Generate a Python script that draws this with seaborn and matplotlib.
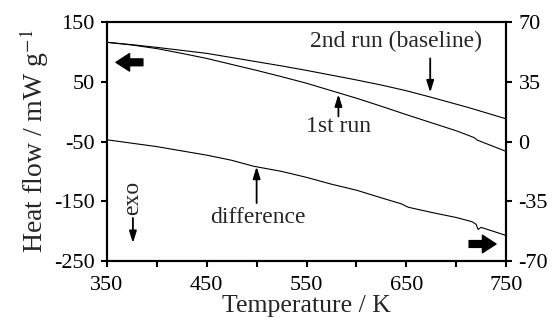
import matplotlib
matplotlib.use("Agg")
import matplotlib.pyplot as plt
import seaborn as sns
import numpy as np

# temperatures (K) and heat flow
temp_runs = [350, 375, 400, 425, 450, 475, 500, 525, 550, 575, 600, 625,
             650, 675, 700, 712, 718, 721, 724, 750]
run2_baseline = [116, 112, 107.5, 102.5, 97.5, 90.5, 83.5, 76.5, 69, 61, 53, 44.5,
                 35, 24, 12.5, 7, 4, 2.5, 1, -12]
run1 = [116, 111.5, 105.5, 97.5, 89, 79, 69, 58.5, 47.5, 35, 22.5, 9,
        -5, -18.5, -32, -39.5, -43.5, -47.5, -49.5, -66.5]

temp_diff = [350, 375, 400, 425, 450, 475, 497, 525, 550, 575, 600, 625,
             645, 652, 675, 700, 716, 720, 722, 725, 750]
difference = [1, -1, -3, -5.5, -8, -11, -14.5, -17.5, -21, -25, -28.5, -33,
              -36.5, -38.5, -41.5, -44.5, -47, -48.5, -51.5, -50.3, -55]

left_ticks = [150, 50, -50, -150, -250]
right_ticks = [70, 35, 0, -35, -70]
x_ticks = [350, 400, 450, 500, 550, 600, 650, 700, 750]
x_labels = ["350", "", "450", "", "550", "", "650", "", "750"]

sns.set_style("ticks")
plt.rcParams['font.family'] = ['Liberation Serif', 'DejaVu Serif']
plt.rcParams['mathtext.fontset'] = 'stix'
plt.rcParams['axes.unicode_minus'] = False

fig = plt.figure(figsize=(5.54, 3.22), dpi=100)
ax = fig.add_axes([0.1931, 0.1894, 0.7203, 0.7423])

sns.lineplot(x=temp_runs, y=run2_baseline, ax=ax, color="black", lw=0.8)
sns.lineplot(x=temp_runs, y=run1, ax=ax, color="black", lw=0.8)
ax.set_xlim(350, 750)
ax.set_ylim(-250, 150)
ax.set_yticks(left_ticks)
ax.set_xticks(x_ticks)
ax.set_xticklabels(x_labels)
ax.set_xlabel("Temperature / K", fontsize=18.5, labelpad=0)
ax.set_ylabel("Heat flow / mW g$^{-1}$", fontsize=20, labelpad=2)

ax2 = ax.twinx()
sns.lineplot(x=temp_diff, y=difference, ax=ax2, color="black", lw=0.8)
ax2.set_ylim(-70, 70)
ax2.set_yticks(right_ticks)
ax2.set_ylabel("")

for a in (ax, ax2):
    for s in a.spines.values():
        s.set_visible(True)
        s.set_linewidth(1.5)
        s.set_color("black")
    a.tick_params(direction="out", length=4, width=1.5, labelsize=16, colors="black", pad=5)
ax.tick_params(axis="x", pad=7)

# annotations
thin = dict(arrowstyle="-|>,head_length=0.7,head_width=0.22", color="black", lw=1.3,
            shrinkA=0, shrinkB=0, mutation_scale=10)
fat = dict(arrowstyle="simple,head_length=0.7,head_width=0.9,tail_width=0.35",
           color="black", shrinkA=0, shrinkB=0, mutation_scale=14)

ax.text(640, 118, "2nd run (baseline)", fontsize=17, ha="center", va="center")
ax.annotate("", xy=(674, 32), xytext=(674, 89), arrowprops=thin)

ax.text(582, -25, "1st run", fontsize=17, ha="center", va="center")
ax.annotate("", xy=(582, 29), xytext=(582, -8), arrowprops=thin)

ax.text(501, -178, "difference", fontsize=17, ha="center", va="center")
ax.annotate("", xy=(500, -92), xytext=(500, -153), arrowprops=thin)

ax.text(376, -145, "exo", fontsize=17, ha="center", va="center", rotation=90)
ax.annotate("", xy=(376, -220), xytext=(376, -178), arrowprops=thin)

ax.annotate("", xy=(359, 82.5), xytext=(386, 82.5), arrowprops=fat)
ax.annotate("", xy=(740, -221.5), xytext=(713, -221.5), arrowprops=fat)

fig.savefig("out.png", dpi=100)
